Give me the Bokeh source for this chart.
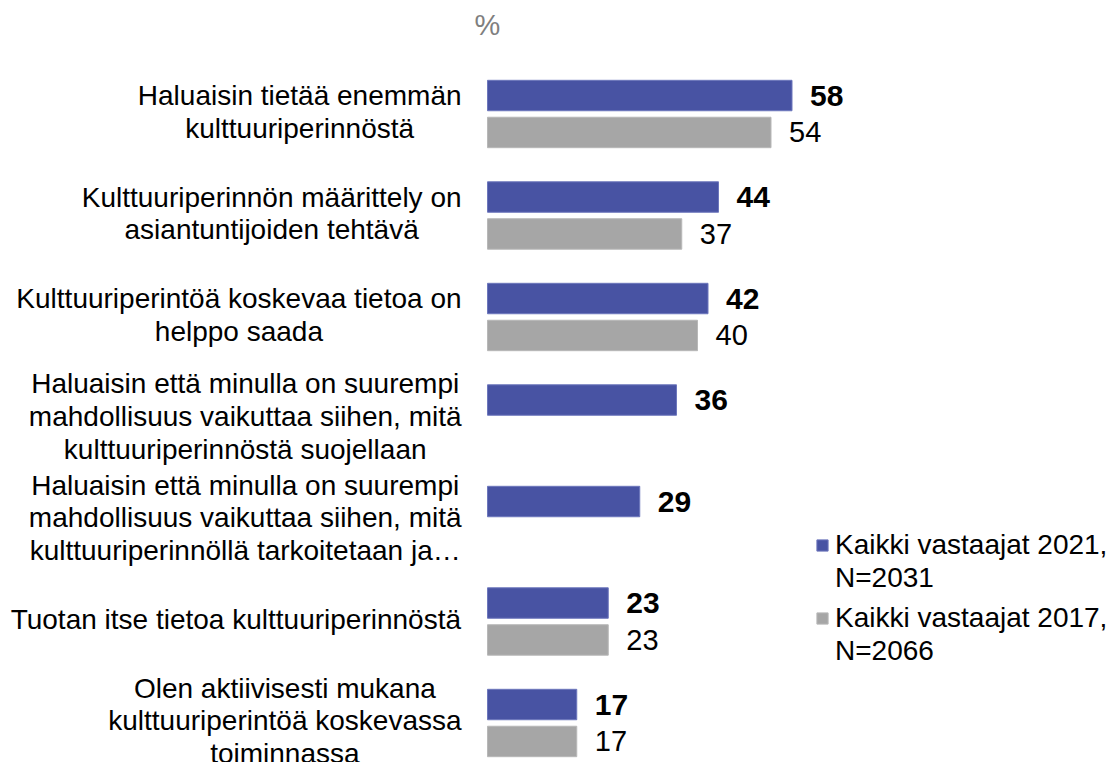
from bokeh.plotting import figure
from bokeh.models import Range1d, ColumnDataSource, Legend, LegendItem, Label
from bokeh.embed import file_html
from bokeh.resources import INLINE
from bokeh.core.properties import value

categories = [
    "Haluaisin tietää enemmän\nkulttuuriperinnöstä",
    "Kulttuuriperinnön määrittely on\nasiantuntijoiden tehtävä",
    "Kulttuuriperintöä koskevaa tietoa on\nhelppo saada",
    "Haluaisin että minulla on suurempi\nmahdollisuus vaikuttaa siihen, mitä\nkulttuuriperinnöstä suojellaan",
    "Haluaisin että minulla on suurempi\nmahdollisuus vaikuttaa siihen, mitä\nkulttuuriperinnöllä tarkoitetaan ja…",
    "Tuotan itse tietoa kulttuuriperinnöstä",
    "Olen aktiivisesti mukana\nkulttuuriperintöä koskevassa\ntoiminnassa",
]
values_2021 = [58, 44, 42, 36, 29, 23, 17]
values_2017 = [54, 37, 40, None, None, 23, 17]
series_2021 = ["Kaikki vastaajat 2021,", "N=2031"]
series_2017 = ["Kaikki vastaajat 2017,", "N=2066"]
unit_label = "%"

BLUE = "#4853A3"
GRAY = "#A6A6A6"
FONT = "Liberation Sans"
FS = 28

W, H = 1111, 762
px_per_x = 5.25
x0 = -487 / px_per_x
x1 = (W - 487) / px_per_x
px_per_y = 101.5
y_top = -113.5 / px_per_y
y_bot = (H - 113.5) / px_per_y

# Arial / Liberation Sans advance widths (per 1000 em)
CW = {c: 556 for c in "abdeghnopqu0123456789äö"}
CW.update({"c": 500, "f": 278, "i": 222, "j": 222, "k": 500, "l": 222, "m": 833,
           "r": 333, "s": 500, "t": 278, "v": 500, "w": 722, "x": 500, "y": 500,
           "z": 500, " ": 278, ",": 278, ".": 278, "…": 1000,
           "H": 722, "K": 667, "O": 778, "T": 611, "N": 722})

def text_px(s):
    return sum(CW.get(c, 556) for c in s) / 1000 * FS

p = figure(width=W, height=H, x_range=Range1d(x0, x1), y_range=Range1d(y_bot, y_top),
           output_backend="svg", toolbar_location=None, min_border=0,
           x_axis_type=None, y_axis_type=None)
p.grid.visible = False
p.outline_line_color = None
p.background_fill_color = "white"
p.border_fill_color = "white"

off = 0.182
bh = 0.30
idx = list(range(len(categories)))

s21 = ColumnDataSource(dict(y=[i - off for i in idx], v=values_2021,
                            t=[str(v) for v in values_2021]))
i17 = [i for i in idx if values_2017[i] is not None]
s17 = ColumnDataSource(dict(y=[i + off for i in i17], v=[values_2017[i] for i in i17],
                            t=[str(values_2017[i]) for i in i17]))

r21 = p.hbar(y="y", left=0, right="v", height=bh, source=s21, fill_color=BLUE,
             line_color="#6D77BC", line_width=1)
r17 = p.hbar(y="y", left=0, right="v", height=bh, source=s17, fill_color=GRAY,
             line_color="#B8B8B8", line_width=1)
# invisible renderer used for the second legend line of each series
r_blank = p.hbar(y=[], left=[], right=[], height=bh, fill_alpha=0, line_alpha=0)

p.text(x="v", y="y", text="t", source=s21, x_offset=18, text_baseline="middle",
       text_align="left", text_font=value(FONT), text_font_size="30px",
       text_font_style="bold", text_color="black")
p.text(x="v", y="y", text="t", source=s17, x_offset=18, text_baseline="middle",
       text_align="left", text_font=value(FONT), text_font_size="29px",
       text_color="black")

# category labels: right-aligned blocks with centred lines
right_edge = -26 / px_per_x
lx = [right_edge - max(text_px(l) for l in c.split("\n")) / 2 / px_per_x for c in categories]
sl = ColumnDataSource(dict(x=lx, y=idx, t=categories))
p.text(x="x", y="y", text="t", source=sl, text_align="center", text_baseline="middle",
       y_offset=-2, text_font=value(FONT), text_font_size=f"{FS}px", text_color="black",
       text_line_height=1.06)

p.add_layout(Label(x=0, y=H - 24, y_units="screen", text=unit_label, text_align="center",
                   text_baseline="middle", text_font=FONT, text_font_size="29px",
                   text_color="#7F7F7F"))

def make_legend(lines, rend, loc):
    return Legend(items=[LegendItem(label=lines[0], renderers=[rend]),
                         LegendItem(label=lines[1], renderers=[r_blank])],
                  location=loc, orientation="vertical",
                  glyph_width=14, glyph_height=14, label_standoff=6, spacing=0,
                  label_height=33, padding=0, margin=0, border_line_color=None,
                  background_fill_alpha=0, label_text_font=FONT,
                  label_text_font_size=f"{FS}px", label_text_color="black",
                  label_text_line_height=1.17)

p.add_layout(make_legend(series_2021, r21, (815, 168)))
p.add_layout(make_legend(series_2017, r17, (815, 95)))

open("out.html", "w").write(file_html(p, INLINE))
